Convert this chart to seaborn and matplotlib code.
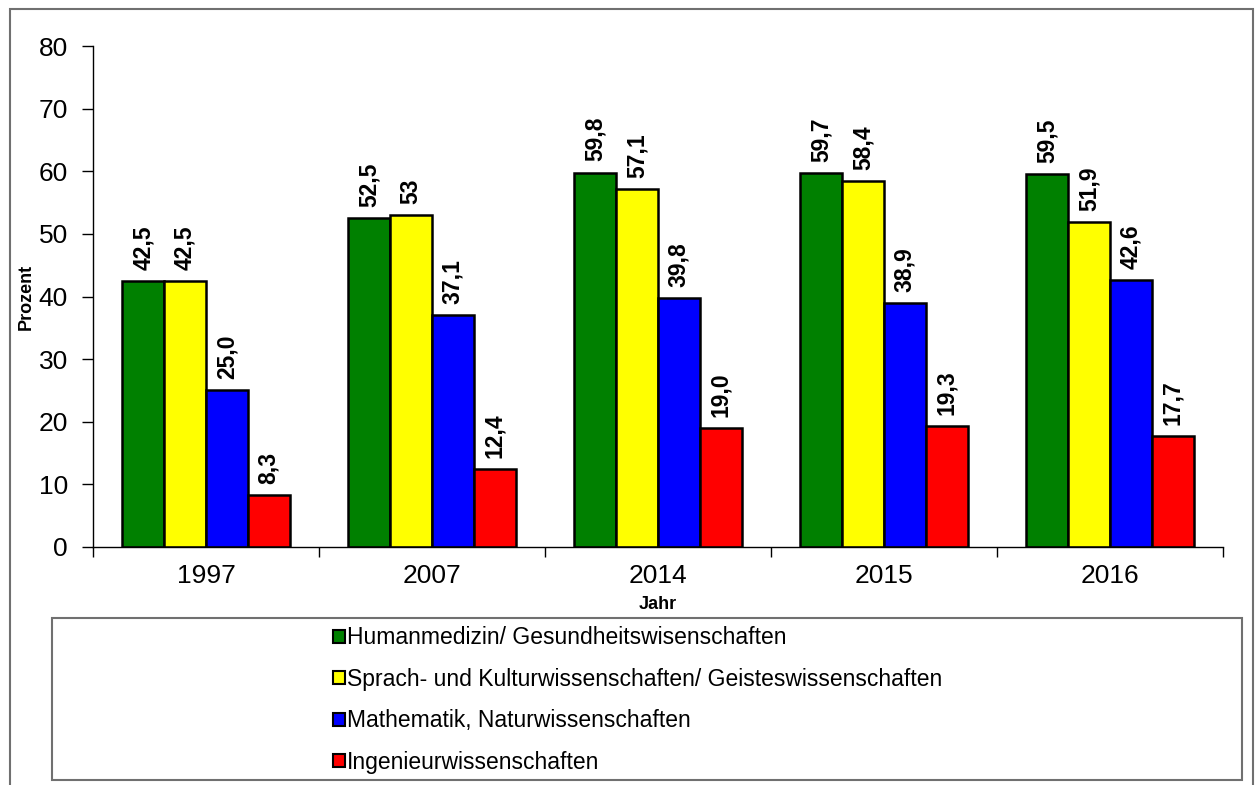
import numpy as np
import pandas as pd
import matplotlib
matplotlib.use("Agg")
import matplotlib.pyplot as plt
from matplotlib.patches import Rectangle
import seaborn as sns

# data
years = ["1997", "2007", "2014", "2015", "2016"]
humanmedizin = [42.5, 52.5, 59.8, 59.7, 59.5]
sprach_kultur = [42.5, 53.0, 57.1, 58.4, 51.9]
mathematik = [25.0, 37.1, 39.8, 38.9, 42.6]
ingenieur = [8.3, 12.4, 19.0, 19.3, 17.7]

series_names = [
    "Humanmedizin/ Gesundheitswisenschaften",
    "Sprach- und Kulturwissenschaften/ Geisteswissenschaften",
    "Mathematik, Naturwissenschaften",
    "Ingenieurwissenschaften",
]
series_values = [humanmedizin, sprach_kultur, mathematik, ingenieur]
colors = ["#008000", "#FFFF00", "#0000FF", "#FF0000"]

# label text as printed in the original (2007 yellow shown without decimal)
label_overrides = {(1, 1): "53"}


def fmt(v):
    return f"{v:.1f}".replace(".", ",")


rows = []
for name, vals in zip(series_names, series_values):
    for yr, v in zip(years, vals):
        rows.append({"Jahr": yr, "Fach": name, "Prozent": v})
df = pd.DataFrame(rows)

sns.set_style("white")
plt.rcParams["font.family"] = ["Liberation Sans", "DejaVu Sans"]
plt.rcParams["text.color"] = "black"
plt.rcParams["axes.labelcolor"] = "black"
plt.rcParams["xtick.color"] = "black"
plt.rcParams["ytick.color"] = "black"

W, H = 1256, 785
fig = plt.figure(figsize=(W / 100, H / 100), dpi=100)
ax = fig.add_axes([93 / W, 1 - 547 / H, (1223 - 93) / W, (547 - 46) / H])

sns.barplot(data=df, x="Jahr", y="Prozent", hue="Fach", order=years,
            hue_order=series_names, palette=colors, width=0.74,
            edgecolor="black", linewidth=1.8, saturation=1, ax=ax, legend=False)

for i, cont in enumerate(ax.containers):
    labels = [label_overrides.get((i, j), fmt(v)) for j, v in enumerate(series_values[i])]
    ax.bar_label(cont, labels=labels, rotation=90, padding=8,
                 fontsize=16.5, fontweight="bold", color="black")

ax.set_xlim(-0.5, len(years) - 0.5)
ax.set_ylim(0, 80)
ax.set_yticks(np.arange(0, 81, 10))
ax.tick_params(axis="y", labelsize=19, length=8, width=1, direction="out", left=True, pad=10)
ax.tick_params(axis="x", which="major", labelsize=19, length=0, pad=12)
ax.set_xticks(np.arange(-0.5, len(years), 1), minor=True)
ax.tick_params(axis="x", which="minor", length=7, width=1, direction="out", bottom=True)

for side in ["top", "right"]:
    ax.spines[side].set_visible(False)
for side in ["left", "bottom"]:
    ax.spines[side].set_color("black")
    ax.spines[side].set_linewidth(1)

ax.set_xlabel("Jahr", fontsize=13, fontweight="bold", labelpad=6)
ax.set_ylabel("Prozent", fontsize=13, fontweight="bold", labelpad=3)

# outer frame and legend box
fig.patches.append(Rectangle((10 / W, -0.1), (1253 - 10) / W, 1.1 - 9 / H,
                             transform=fig.transFigure, fill=False,
                             edgecolor="#707070", linewidth=1.5))
fig.patches.append(Rectangle((52 / W, 1 - 780 / H), (1242 - 52) / W, (780 - 618) / H,
                             transform=fig.transFigure, fill=False,
                             edgecolor="#707070", linewidth=1.5))

handles = [Rectangle((0, 0), 1, 1, facecolor=c, edgecolor="black", linewidth=1.5)
           for c in colors]
fig.legend(handles, series_names, loc="center left",
           bbox_to_anchor=(322 / W, 1 - 700 / H), frameon=False,
           fontsize=16.5, handlelength=0.5, handleheight=0.5,
           handletextpad=0.1, labelspacing=0.8, borderpad=0)

fig.savefig("out.png", dpi=100)
